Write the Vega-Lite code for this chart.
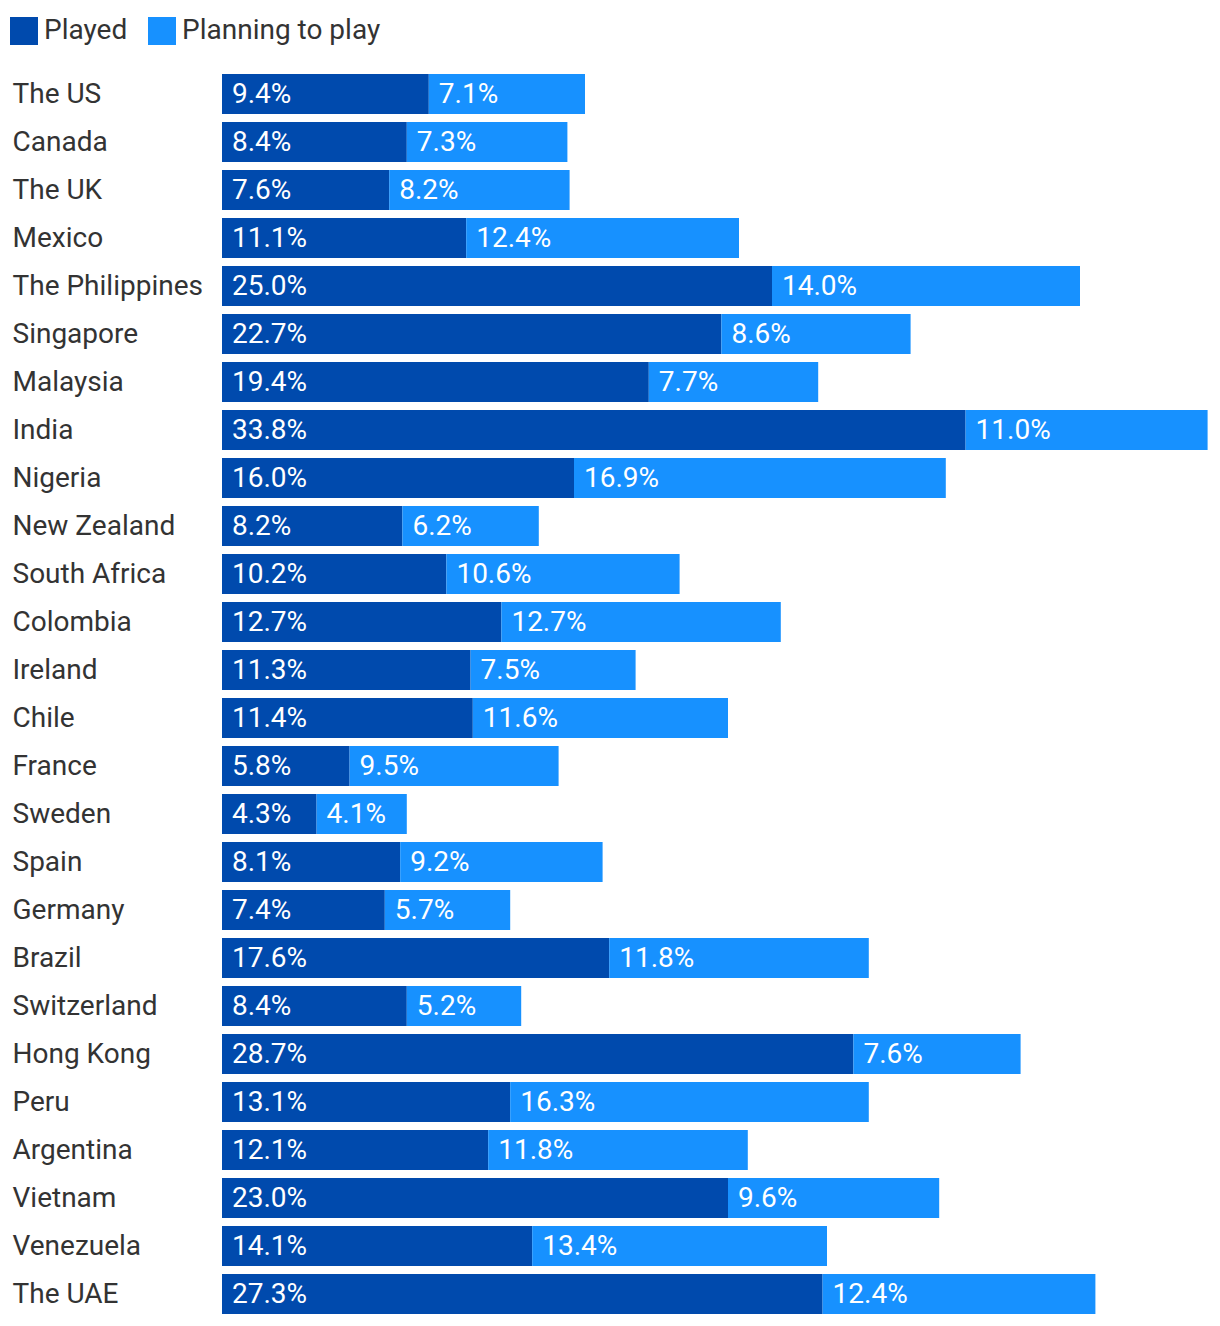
{
  "$schema": "https://vega.github.io/schema/vega-lite/v6.json",
  "width": 990,
  "height": 1248,
  "autosize": {"type": "none"},
  "padding": {"left": 222, "top": 70, "right": 0, "bottom": 0},
  "background": "white",
  "config": {"font": "Roboto", "view": {"stroke": null}},
  "data": {
    "values": [
      {"country": "The US", "series": "Played", "order": 1, "value": 0.094},
      {"country": "The US", "series": "Planning to play", "order": 2, "value": 0.071},
      {"country": "Canada", "series": "Played", "order": 1, "value": 0.084},
      {"country": "Canada", "series": "Planning to play", "order": 2, "value": 0.073},
      {"country": "The UK", "series": "Played", "order": 1, "value": 0.076},
      {"country": "The UK", "series": "Planning to play", "order": 2, "value": 0.082},
      {"country": "Mexico", "series": "Played", "order": 1, "value": 0.111},
      {"country": "Mexico", "series": "Planning to play", "order": 2, "value": 0.124},
      {"country": "The Philippines", "series": "Played", "order": 1, "value": 0.250},
      {"country": "The Philippines", "series": "Planning to play", "order": 2, "value": 0.140},
      {"country": "Singapore", "series": "Played", "order": 1, "value": 0.227},
      {"country": "Singapore", "series": "Planning to play", "order": 2, "value": 0.086},
      {"country": "Malaysia", "series": "Played", "order": 1, "value": 0.194},
      {"country": "Malaysia", "series": "Planning to play", "order": 2, "value": 0.077},
      {"country": "India", "series": "Played", "order": 1, "value": 0.338},
      {"country": "India", "series": "Planning to play", "order": 2, "value": 0.110},
      {"country": "Nigeria", "series": "Played", "order": 1, "value": 0.160},
      {"country": "Nigeria", "series": "Planning to play", "order": 2, "value": 0.169},
      {"country": "New Zealand", "series": "Played", "order": 1, "value": 0.082},
      {"country": "New Zealand", "series": "Planning to play", "order": 2, "value": 0.062},
      {"country": "South Africa", "series": "Played", "order": 1, "value": 0.102},
      {"country": "South Africa", "series": "Planning to play", "order": 2, "value": 0.106},
      {"country": "Colombia", "series": "Played", "order": 1, "value": 0.127},
      {"country": "Colombia", "series": "Planning to play", "order": 2, "value": 0.127},
      {"country": "Ireland", "series": "Played", "order": 1, "value": 0.113},
      {"country": "Ireland", "series": "Planning to play", "order": 2, "value": 0.075},
      {"country": "Chile", "series": "Played", "order": 1, "value": 0.114},
      {"country": "Chile", "series": "Planning to play", "order": 2, "value": 0.116},
      {"country": "France", "series": "Played", "order": 1, "value": 0.058},
      {"country": "France", "series": "Planning to play", "order": 2, "value": 0.095},
      {"country": "Sweden", "series": "Played", "order": 1, "value": 0.043},
      {"country": "Sweden", "series": "Planning to play", "order": 2, "value": 0.041},
      {"country": "Spain", "series": "Played", "order": 1, "value": 0.081},
      {"country": "Spain", "series": "Planning to play", "order": 2, "value": 0.092},
      {"country": "Germany", "series": "Played", "order": 1, "value": 0.074},
      {"country": "Germany", "series": "Planning to play", "order": 2, "value": 0.057},
      {"country": "Brazil", "series": "Played", "order": 1, "value": 0.176},
      {"country": "Brazil", "series": "Planning to play", "order": 2, "value": 0.118},
      {"country": "Switzerland", "series": "Played", "order": 1, "value": 0.084},
      {"country": "Switzerland", "series": "Planning to play", "order": 2, "value": 0.052},
      {"country": "Hong Kong", "series": "Played", "order": 1, "value": 0.287},
      {"country": "Hong Kong", "series": "Planning to play", "order": 2, "value": 0.076},
      {"country": "Peru", "series": "Played", "order": 1, "value": 0.131},
      {"country": "Peru", "series": "Planning to play", "order": 2, "value": 0.163},
      {"country": "Argentina", "series": "Played", "order": 1, "value": 0.121},
      {"country": "Argentina", "series": "Planning to play", "order": 2, "value": 0.118},
      {"country": "Vietnam", "series": "Played", "order": 1, "value": 0.230},
      {"country": "Vietnam", "series": "Planning to play", "order": 2, "value": 0.096},
      {"country": "Venezuela", "series": "Played", "order": 1, "value": 0.141},
      {"country": "Venezuela", "series": "Planning to play", "order": 2, "value": 0.134},
      {"country": "The UAE", "series": "Played", "order": 1, "value": 0.273},
      {"country": "The UAE", "series": "Planning to play", "order": 2, "value": 0.124}
    ]
  },
  "transform": [
    {"stack": "value", "groupby": ["country"], "sort": [{"field": "order", "order": "ascending"}], "as": ["v0", "v1"]}
  ],
  "encoding": {
    "y": {
      "field": "country",
      "type": "nominal",
      "sort": null,
      "scale": {"paddingInner": 0.16667, "paddingOuter": 0.08333},
      "axis": {
        "title": null,
        "domain": false,
        "ticks": false,
        "tickSize": 0,
        "grid": false,
        "labelAlign": "left",
        "labelBaseline": "middle",
        "labelPadding": 210,
        "labelFontSize": 28,
        "labelColor": "#333333",
        "labelLimit": 0,
        "labelOffset": 1
      }
    }
  },
  "layer": [
    {
      "mark": {"type": "bar"},
      "encoding": {
        "x": {"field": "v0", "type": "quantitative", "scale": {"domain": [0, 0.45], "nice": false, "zero": true}, "axis": null},
        "x2": {"field": "v1"},
        "color": {
          "field": "series",
          "type": "nominal",
          "sort": null,
          "scale": {"domain": ["Played", "Planning to play"], "range": ["#004AAD", "#1791FF"]},
          "legend": {
            "title": null,
            "orient": "none",
            "legendX": -212,
            "legendY": -53,
            "direction": "horizontal",
            "padding": 0,
            "symbolType": "square",
            "symbolSize": 784,
            "symbolStrokeWidth": 0,
            "symbolOpacity": 1,
            "labelFontSize": 28,
            "labelColor": "#333333",
            "labelOffset": 6,
            "columnPadding": 20,
            "labelLimit": 0
          }
        }
      }
    },
    {
      "mark": {"type": "text", "align": "left", "baseline": "middle", "dx": 10, "dy": 1, "color": "white", "fontSize": 28},
      "encoding": {
        "x": {"field": "v0", "type": "quantitative"},
        "text": {"field": "value", "type": "quantitative", "format": ".1%"}
      }
    }
  ]
}
